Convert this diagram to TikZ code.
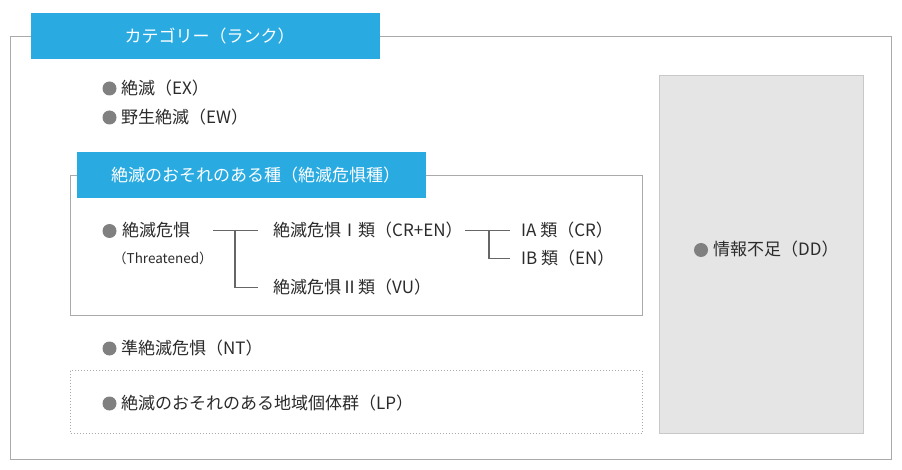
\documentclass[tikz,border=0pt]{standalone}
\usepackage{fontspec}
\setmainfont{Noto Sans CJK JP}
\definecolor{hdrblue}{HTML}{29ABE2}
\definecolor{framegray}{HTML}{AAAAAA}
\definecolor{bulgray}{HTML}{808080}
\definecolor{txtcol}{HTML}{2B2B2B}
\definecolor{ddfill}{HTML}{E5E5E5}
\definecolor{ddline}{HTML}{C8C8C8}
\definecolor{branchcol}{HTML}{666666}
\tikzset{
  hdrbox/.style={fill=hdrblue, text=white, inner sep=0pt, minimum width=349pt, minimum height=46pt, font=\fontsize{17}{20}\selectfont},
  itemtext/.style={anchor=west, inner sep=0pt, text=txtcol, font=\fontsize{17}{20}\selectfont},
  smalltext/.style={anchor=west, inner sep=0pt, text=txtcol, font=\fontsize{13.5}{16}\selectfont},
  framebox/.style={draw=framegray, line width=1pt},
  branchline/.style={draw=branchcol, line width=1.4pt},
  bulletdot/.style={fill=bulgray}
}
\begin{document}
\begin{tikzpicture}[x=1pt,y=-1pt]
\useasboundingbox (0,0) rectangle (902,470);
\fill[white] (0,0) rectangle (902,470);
% outer frame
\draw[framebox] (10.5,36.5) rectangle (891,459.5);
\node[hdrbox] (cat) at (205.5,36) {\hspace*{8pt}カテゴリー（ランク）};
% EX, EW
\fill[bulletdot] (109.5,88.5) circle (7);
\node[itemtext] (ex) at (121,88.5) {絶滅（EX）};
\fill[bulletdot] (109.5,117.5) circle (7);
\node[itemtext] (ew) at (121,117.5) {野生絶滅（EW）};
% threatened box
\draw[framebox] (70,175.5) rectangle (642.5,315);
\node[hdrbox] (thrhdr) at (251.5,175) {\hspace*{8pt}絶滅のおそれのある種（絶滅危惧種）};
\fill[bulletdot] (109.5,231) circle (7);
\node[itemtext] (thr) at (122,230.5) {絶滅危惧};
\node[smalltext] (thren) at (113,258.5) {（Threatened）};
\coordinate (a1) at (213,230.5);
\coordinate (a3) at (235,230.5);
\node[itemtext] (cat1) at (273,230.5) {絶滅危惧Ⅰ類（CR+EN）};
\node[itemtext] (cat2) at (273,287.5) {絶滅危惧Ⅱ類（VU）};
\draw[branchline] (a1) -- (cat1.west -| 258,0);
\draw[branchline] (a3) |- (cat2.west -| 258,0);
\coordinate (b1) at (465,230.5);
\coordinate (b3) at (489,230.5);
\node[itemtext] (ia) at (521,230.5) {IA 類（CR）};
\node[itemtext] (ib) at (521,258.5) {IB 類（EN）};
\draw[branchline] (b1) -- (ia.west -| 510,0);
\draw[branchline] (b3) |- (ib.west -| 510,0);
% NT
\fill[bulletdot] (109.5,348.5) circle (7);
\node[itemtext] (nt) at (121,348.5) {準絶滅危惧（NT）};
% LP dotted box
\draw[draw=framegray, line width=0.8pt, dash pattern=on 1pt off 2pt] (70,370.5) rectangle (642,433);
\fill[bulletdot] (109.5,403.5) circle (7);
\node[itemtext] (lp) at (121,403.5) {絶滅のおそれのある地域個体群（LP）};
% DD box
\draw[draw=ddline, fill=ddfill, line width=1pt] (659.5,75.5) rectangle (863.5,433.5);
\fill[bulletdot] (701,250) circle (7);
\node[itemtext] (dd) at (713,249.5) {情報不足（DD）};
\end{tikzpicture}
\end{document}
